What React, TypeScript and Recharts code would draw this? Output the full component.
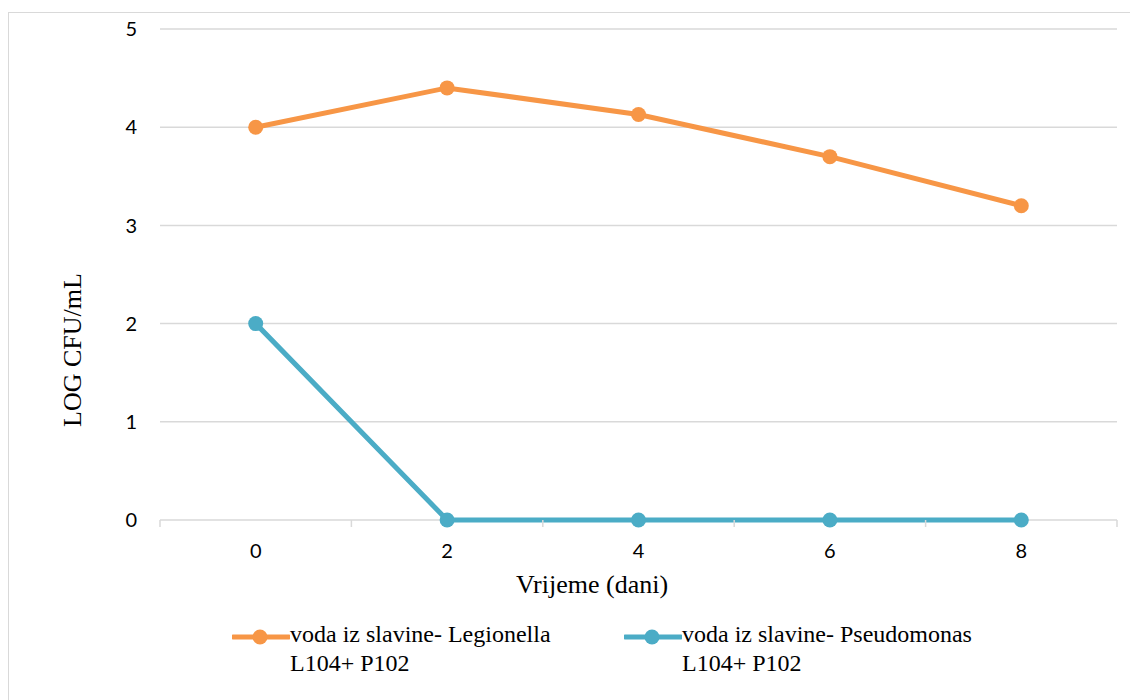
import React from "react";
import { LineChart, Line, XAxis, YAxis, CartesianGrid } from "recharts";

const days = [0, 2, 4, 6, 8];
const legionella = [4.0, 4.4, 4.13, 3.7, 3.2];
const pseudomonas = [2, 0, 0, 0, 0];
const yTicks = [0, 1, 2, 3, 4, 5];
const xTicks = [-1, 0, 1, 2, 3, 4, 5, 6, 7, 8, 9];
const seriesNames = [
  "voda iz slavine- Legionella L104+ P102",
  "voda iz slavine- Pseudomonas L104+ P102",
];
const seriesColors = ["#F79646", "#4BACC6"];
const xTitle = "Vrijeme (dani)";
const yTitle = "LOG CFU/mL";

const data = days.map((d, i) => ({ day: d, leg: legionella[i], pse: pseudomonas[i] }));

const GRID = "#d9d9d9";
const SANS = "Lato, 'Open Sans', sans-serif";
const SERIF = "'Liberation Serif', 'Times New Roman', serif";

const XTick = (props: any) => {
  const { x, y, payload } = props;
  const v = payload.value;
  if (Math.abs(v % 2) === 1) {
    return <line x1={x} y1={y} x2={x} y2={y + 7} stroke={GRID} strokeWidth={1.5} />;
  }
  return (
    <text x={x} y={y + 38} textAnchor="middle" fontFamily={SANS} fontSize={20} fill="#000">
      {v}
    </text>
  );
};

const LegendItem = ({ color, name, left }: { color: string; name: string; left: number }) => (
  <div style={{ position: "absolute", left, top: 612 }}>
    <svg width={58} height={20} style={{ position: "absolute", left: 0, top: 7 }}>
      <line x1={1} y1={10} x2={57} y2={10} stroke={color} strokeWidth={5} strokeLinecap="round" />
      <circle cx={28} cy={10} r={7.5} fill={color} />
    </svg>
    <div
      style={{
        position: "absolute",
        left: 58,
        top: 0,
        width: 300,
        fontFamily: SERIF,
        fontSize: 24,
        lineHeight: "29px",
        color: "#000",
      }}
    >
      {name}
    </div>
  </div>
);

export default function App() {
  return (
    <div style={{ position: "relative", width: 1130, height: 692 }}>
      <div
        style={{
          position: "absolute",
          left: 0,
          top: 4,
          width: 1130,
          height: 688,
          borderLeft: `1.5px solid ${GRID}`,
          borderTop: `1.5px solid ${GRID}`,
          boxSizing: "border-box",
        }}
      />
      <div style={{ position: "absolute", left: 0, top: 0 }}>
        <LineChart width={1130} height={692} data={data} margin={{ top: 21, right: 21, bottom: 0, left: 0 }}>
          <CartesianGrid vertical={false} stroke={GRID} strokeWidth={1.5} />
          <XAxis
            dataKey="day"
            type="number"
            domain={[-1, 9]}
            ticks={xTicks}
            interval={0}
            tickLine={false}
            tickSize={0}
            tickMargin={0}
            axisLine={false}
            tick={<XTick />}
            height={180}
          />
          <YAxis
            domain={[0, 5]}
            ticks={yTicks}
            interval={0}
            axisLine={false}
            tickLine={false}
            tickSize={0}
            tickMargin={23}
            width={152}
            tick={{ fontFamily: SANS, fontSize: 20, fill: "#000" }}
          />
          <Line
            dataKey="leg"
            name={seriesNames[0]}
            stroke={seriesColors[0]}
            strokeWidth={5}
            dot={{ r: 7.5, fill: seriesColors[0], stroke: "none" }}
            activeDot={false}
            isAnimationActive={false}
          />
          <Line
            dataKey="pse"
            name={seriesNames[1]}
            stroke={seriesColors[1]}
            strokeWidth={5}
            dot={{ r: 7.5, fill: seriesColors[1], stroke: "none" }}
            activeDot={false}
            isAnimationActive={false}
          />
        </LineChart>
      </div>
      <div
        style={{
          position: "absolute",
          left: 584,
          top: 577,
          transform: "translate(-50%, -50%)",
          whiteSpace: "nowrap",
          fontFamily: SERIF,
          fontSize: 26,
          lineHeight: 1,
          color: "#000",
        }}
      >
        {xTitle}
      </div>
      <div
        style={{
          position: "absolute",
          left: 65,
          top: 342,
          transform: "translate(-50%, -50%) rotate(-90deg)",
          whiteSpace: "nowrap",
          fontFamily: SERIF,
          fontSize: 26,
          lineHeight: 1,
          color: "#000",
        }}
      >
        {yTitle}
      </div>
      <LegendItem color={seriesColors[0]} name={seriesNames[0]} left={224} />
      <LegendItem color={seriesColors[1]} name={seriesNames[1]} left={616} />
    </div>
  );
}
